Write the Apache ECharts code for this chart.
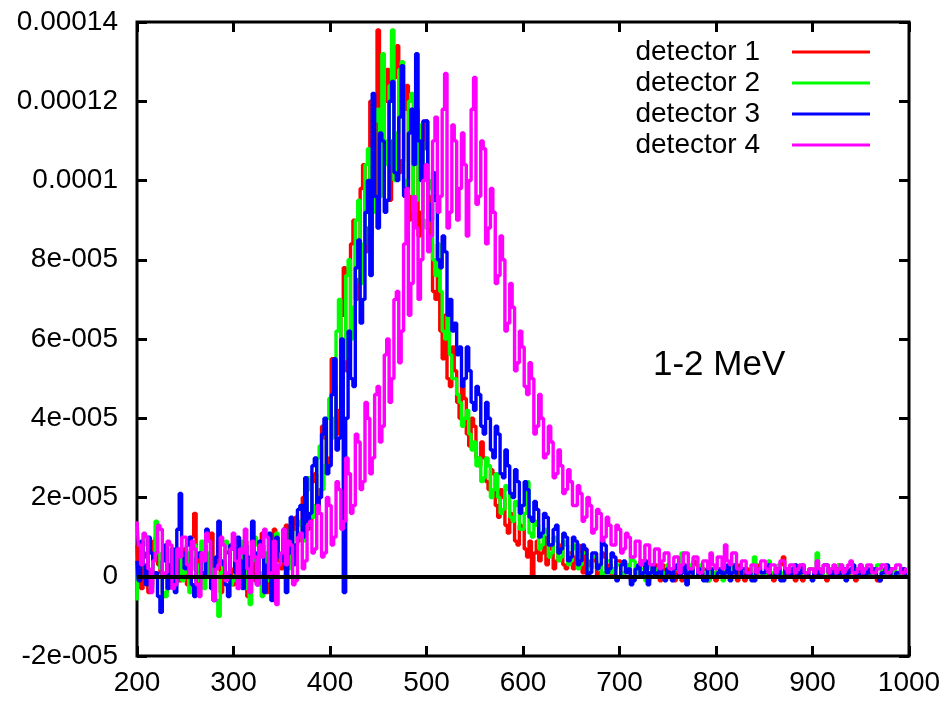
<!DOCTYPE html>
<html><head><meta charset="utf-8">
<script src="https://cdn.jsdelivr.net/npm/echarts@6/dist/echarts.min.js"></script>
<style>html,body{margin:0;padding:0;background:#fff}#c{width:949px;height:703px}</style>
</head><body><div id="c"></div>
<script>
// bins: centres start at 200, width 2.5 (units of x axis); each row covers 50 units
const binStart = 200;
const binWidth = 2.5;
const seriesNames = ['detector 1', 'detector 2', 'detector 3', 'detector 4'];
const seriesColors = ['#ff0000', '#00ff00', '#0000ff', '#ff00ff'];
const xTickLabels = ['200', '300', '400', '500', '600', '700', '800', '900', '1000'];
// y tick labels, from -2e-5 to 1.4e-4 (values below are in units of 1e-6)
const yTickLabels = ['-2e-005', '0', '2e-005', '4e-005', '6e-005', '8e-005', '0.0001', '0.00012', '0.00014'];
const annotation = '1-2 MeV';

const det1 = [
  8, 2, -3, 6, 5, -4, -2, 9, 10, 3, 1, -5, -4, 4, 6, 0, 2, 7, -1, 3,
  7, -2, 3, 10, 16, 5, -2, 4, 8, 0, 4, 11, -3, 2, 9, -4, 1, 7, 6, 2,
  -2, 5, 7, 0, 2, 9, -5, 3, 8, -1, 3, 6, 11, 2, -4, 5, 6, 12, 9, 4,
  2, 8, 13, 6, 5, 12, 15, 9, 10, 20, 18, 12, 14, 24, 26, 17, 22, 38, 35, 28,
  30, 55, 48, 36, 42, 66, 78, 52, 60, 84, 90, 70, 75, 98, 104, 82, 88, 120, 114, 96,
  138, 112, 100, 120, 128, 95, 110, 126, 134, 102, 105, 118, 124, 90, 96, 112, 118, 86, 92, 108,
  115, 96, 84, 72, 70, 78, 62, 55, 66, 50, 48, 58, 52, 44, 40, 48, 45, 36, 33, 40,
  38, 30, 28, 34, 30, 24, 22, 27, 26, 18, 15, 22, 20, 13, 11, 16, 14, 9, 8, 13,
  12, 7, 5, 9, 0, 6, 9, 4, 6, 10, 3, 7, 8, 2, 4, 8, 7, 3, 2, 6,
  6, 2, 5, 8, 3, 1, 7, 4, 2, 5, 4, 0, 1, 6, 5, 2, 3, 0, 2, 4,
  4, 1, 1, 3, 3, -1, 0, 2, 2, 4, 3, 0, -1, 1, 2, 3, 1, -1, 3, 1,
  0, 2, 2, -1, 1, 3, -1, 0, 2, 1, 1, 4, 3, 0, 0, 2, 1, -1, 2, 1,
  -1, 2, 1, 0, 2, 1, 0, 3, 1, -1, 3, 1, -1, 2, 1, 0, 2, 3, 0, 1,
  1, 0, 2, 1, -1, 2, 1, 3, 5, 1, 0, 2, 2, -1, 1, 2, -1, 0, 1, 2,
  2, 1, 0, 2, 1, 0, -1, 2, 2, 0, 1, 3, 0, 1, 2, 0, 1, 2, -1, 1,
  1, 0, 2, 1, 0, 2, 1, -1, -1, 1, 2, 0, 1, 2, 0, 1, 1, 0, 2, 1
];
const det2 = [
  -6, 2, 4, 8, 10, -1, -3, 5, 14, 6, 2, -4, -5, 3, 7, 1, -2, 6, 5, -1,
  1, 6, -4, 2, 8, -1, 3, 9, -3, 0, 6, 2, 0, -6, -10, 1, 4, 9, 7, -2,
  -1, 3, 5, 1, 9, 4, -3, -7, 4, 10, 8, 1, -5, 2, 6, -1, 2, 7, 11, 5,
  4, 10, 7, 2, 12, 8, 6, 13, 14, 9, 12, 25, 22, 15, 18, 30, 33, 22, 28, 40,
  45, 35, 40, 62, 70, 48, 55, 76, 80, 60, 68, 90, 95, 74, 84, 104, 108, 86, 92, 115,
  118, 96, 132, 110, 104, 124, 138, 100, 112, 128, 130, 98, 100, 120, 122, 92, 95, 114, 110, 90,
  88, 100, 98, 80, 76, 84, 72, 62, 60, 66, 56, 50, 50, 46, 44, 38, 40, 42, 36, 32,
  34, 28, 30, 24, 25, 30, 28, 20, 22, 26, 20, 16, 17, 23, 22, 15, 14, 19, 18, 12,
  12, 16, 24, 11, 10, 14, 13, 7, 8, 12, 11, 5, 6, 10, 9, 4, 5, 9, 8, 3,
  4, 8, 7, 2, 3, 6, 6, 1, 2, 5, 5, 2, 3, 0, 1, 4, 4, 1, 2, 3,
  3, 0, 1, 3, 2, 5, 4, 1, 0, 2, 2, -1, 3, 2, 1, 0, 2, 3, 0, 1,
  3, 1, 1, 2, 2, 0, 6, 2, 1, 3, 2, 0, 0, 2, 3, 1, 1, -1, 2, 1,
  0, 2, 1, -1, 2, 1, 1, 3, 3, 0, 0, 2, 2, 1, 1, 0, 5, 2, 1, 0,
  0, 2, 4, 1, 1, 0, 3, 1, 0, 2, 2, 1, 1, 3, 2, 0, 0, 1, 1, 2,
  2, 1, 6, 2, 1, 0, 0, 2, 2, 1, 1, 3, 3, 0, 0, 1, 1, 2, 2, 0,
  1, 2, 0, 1, 2, 0, 1, 3, 3, 1, 0, 2, 1, 0, 2, 1, 1, 0, 0, 1
];
const det3 = [
  4, -1, 9, 3, -2, 10, 6, 0, 1, -5, -9, 4, 8, -3, 3, 7, -4, 12, 21, 6,
  2, 8, 10, -2, -5, 5, 6, 1, 0, 12, 9, -3, -6, 5, 14, 4, 3, -2, -5, 8,
  7, 1, 10, 4, -3, 8, 5, 0, 14, 6, -2, 9, 8, -4, 3, 11, -6, 2, 10, 5,
  4, 12, -4, 6, 15, 3, 8, 17, 18, 10, 25, 14, 16, 28, 30, 18, 20, 36, 40, 26,
  28, 46, 55, 32, 35, 60, -4, 40, 62, 50, 48, 78, 85, 64, 70, 92, 100, 76, 122, 96,
  88, 112, 110, 92, 95, 120, 125, 102, 100, 116, 129, 96, 98, 112, 118, 104, 132, 110, 100, 115,
  115, 94, 90, 102, 95, 80, 78, 86, 82, 66, 70, 62, 64, 56, 58, 48, 50, 58, 52, 44,
  42, 48, 46, 38, 36, 44, 40, 32, 30, 38, 36, 26, 25, 32, 28, 21, 20, 27, 24, 16,
  18, 24, 22, 15, 14, 19, 17, 10, 11, 16, 15, 8, 8, 12, 13, 6, 7, 11, 10, 4,
  5, 10, 9, 3, 4, 8, 7, 0, 1, 6, 6, 2, 3, 9, 8, 1, 2, 6, 5, -1,
  0, 3, 4, 1, 2, -2, -1, 2, 3, 0, 1, 4, -2, 1, 3, 0, 1, 2, 0, -1,
  2, 1, -1, 2, 3, 0, 1, 3, -2, 1, 2, 0, 0, 2, 1, -1, -1, 2, 2, 0,
  0, 1, 2, 0, 1, 3, -1, 1, 3, 0, 0, 2, 2, 0, 1, -1, -1, 2, 2, 1,
  1, 2, 3, 0, 0, 1, 2, -1, -1, 2, 1, 0, 2, 3, 0, 1, 3, 1, 1, 0,
  -1, 1, 2, 0, 1, 3, 3, 1, 0, 2, 2, 0, 1, 2, -1, 1, 2, 3, 1, 0,
  3, 1, 0, 2, 1, 2, 2, 0, -1, 1, 1, 3, 2, 0, 0, 1, 1, 2, 2, 0
];
const det4 = [
  14, 8, 3, 11, 10, 2, -4, 4, 6, 13, 12, 0, 1, 9, 8, -3, -2, 7, 5, 10,
  10, 3, 0, 9, 7, -2, -5, 6, 4, 11, 9, 0, -6, 2, 3, 10, 8, -1, 1, 7,
  11, 4, -3, 7, 6, 12, 2, -4, 9, 5, -2, 8, 5, 12, 10, 0, 1, 9, -7, 3,
  6, 12, 3, 9, 8, -2, -1, 10, 11, 2, 4, 13, 14, 6, 7, 18, 16, 5, 6, 20,
  18, 8, 10, 24, 22, 12, 14, 30, 26, 16, 18, 36, 34, 22, 24, 44, 40, 26, 30, 46,
  48, 34, 38, 56, 60, 44, 50, 70, 72, 54, 62, 84, 98, 66, 74, 96, 88, 70, 80, 100,
  104, 82, 86, 110, 116, 92, 96, 118, 127, 88, 92, 114, 110, 90, 98, 112, 104, 86, 100, 118,
  126, 94, 96, 110, 108, 84, 88, 98, 92, 74, 76, 86, 80, 62, 64, 74, 68, 52, 54, 62,
  58, 48, 46, 54, 50, 36, 38, 46, 40, 30, 31, 38, 34, 25, 26, 32, 28, 21, 22, 27,
  24, 18, 18, 23, 21, 14, 15, 20, 18, 11, 12, 17, 16, 9, 10, 15, 13, 8, 8, 13,
  12, 6, 7, 11, 10, 5, 5, 9, 9, 3, 4, 8, 8, 3, 3, 7, 7, 2, 4, 6,
  6, 2, 2, 5, 5, 1, 3, 6, 6, 2, 2, 5, 5, 1, 1, 4, 4, 2, 6, 3,
  2, 5, 5, 2, 8, 4, 3, 6, 6, 2, 2, 4, 4, 1, 1, 3, 3, 1, 2, 4,
  4, 2, 1, 3, 3, 1, 2, 4, 4, 2, 1, 3, 3, 1, 2, 3, 3, 1, 1, 2,
  2, 1, 4, 2, 1, 3, 3, 1, 2, 3, 1, 2, 3, 1, 2, 3, 4, 1, 1, 2,
  3, 1, 2, 3, 3, 1, 1, 2, 2, 3, 3, 1, 1, 2, 2, 3, 3, 1, 1, 2
];
const allData = [det1, det2, det3, det4];

const FONT = '"Liberation Sans", Arial, Helvetica, sans-serif';
const chart = echarts.init(document.getElementById('c'), null, {renderer: 'canvas'});

function toPoints(arr) {
  return arr.map((v, i) => [binStart + i * binWidth, v]);
}

const tickStyle = {inside: true, length: 10, lineStyle: {color: '#000', width: 3}};
const xLabelFmt = v => { const i = Math.round((v - 200) / 100); return xTickLabels[i] !== undefined ? xTickLabels[i] : ''; };
const yLabelFmt = v => { const i = Math.round((v + 20) / 20); return yTickLabels[i] !== undefined ? yTickLabels[i] : ''; };

const series = allData.map((arr, k) => {
  const s = {
    name: seriesNames[k],
    type: 'line',
    step: 'middle',
    data: toPoints(arr),
    showSymbol: false,
    symbol: 'none',
    lineStyle: {color: seriesColors[k], width: 3.4},
    itemStyle: {color: seriesColors[k]},
    emphasis: {disabled: true},
    animation: false
  };
  if (k === allData.length - 1) {
    s.markLine = {
      silent: true, symbol: 'none', animation: false,
      label: {show: false},
      lineStyle: {color: '#000', width: 4, type: 'solid'},
      data: [{yAxis: 0}]
    };
  }
  return s;
});

chart.setOption({
  animation: false,
  backgroundColor: '#fff',
  title: {
    text: annotation, left: 653, top: 348, padding: 0,
    textStyle: {fontFamily: FONT, fontSize: 35, fontWeight: 'normal', color: '#000'}
  },
  legend: {
    orient: 'vertical', right: 74, top: 33, align: 'right',
    icon: 'rect', itemWidth: 78, itemHeight: 3, itemGap: 3,
    textStyle: {fontFamily: FONT, fontSize: 28, color: '#000', lineHeight: 28, padding: [0, 27, 0, 0]},
    data: seriesNames, selectedMode: false
  },
  grid: {left: 137, right: 40, top: 22, bottom: 47, show: true, borderColor: '#000', borderWidth: 3, backgroundColor: 'transparent'},
  xAxis: [
    {type: 'value', min: 200, max: 1000, interval: 100, position: 'bottom',
     axisLine: {show: false, onZero: false}, axisTick: tickStyle, splitLine: {show: false},
     axisLabel: {color: '#000', fontSize: 28, fontFamily: FONT, margin: 13, formatter: xLabelFmt}},
    {type: 'value', min: 200, max: 1000, interval: 100, position: 'top',
     axisLine: {show: false, onZero: false}, axisTick: tickStyle, splitLine: {show: false}, axisLabel: {show: false}}
  ],
  yAxis: [
    {type: 'value', min: -20, max: 140, interval: 20, position: 'left',
     axisLine: {show: false, onZero: false}, axisTick: tickStyle, splitLine: {show: false},
     axisLabel: {color: '#000', fontSize: 28, fontFamily: FONT, margin: 19, formatter: yLabelFmt}},
    {type: 'value', min: -20, max: 140, interval: 20, position: 'right',
     axisLine: {show: false, onZero: false}, axisTick: tickStyle, splitLine: {show: false}, axisLabel: {show: false}}
  ],
  series: series
});
</script></body></html>
